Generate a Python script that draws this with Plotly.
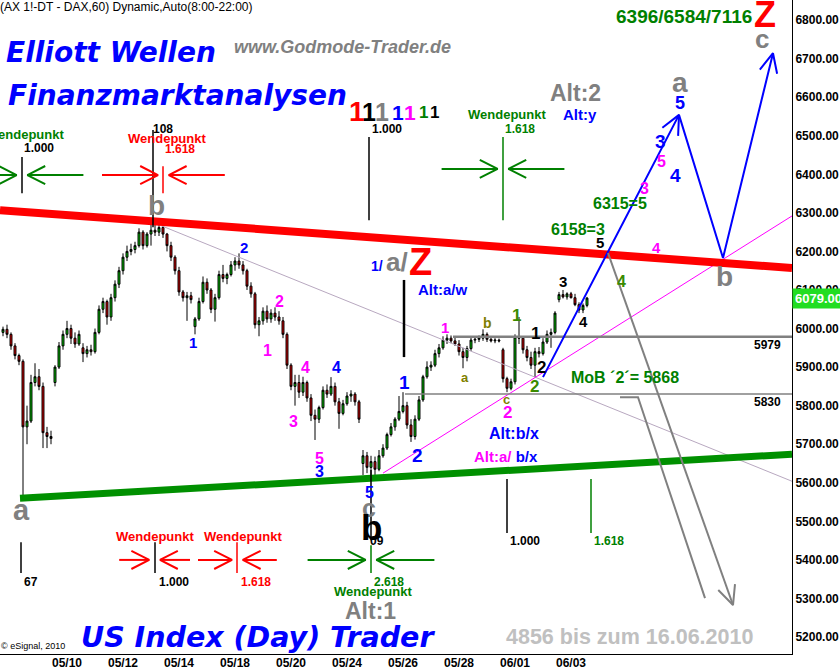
import math
import plotly.graph_objects as go

# ---------------- data (2-hour bars, FDAX, 06 May - 03 Jun 2010) ----------------
opens = [5990, 5998, 5985, 5955, 5930, 5915, 5745, 5760, 5860, 5875, 5850, 5730, 5720,
         5860, 5900, 5955, 5985, 6000, 5975, 5960,
         5950, 5935, 5945, 5940, 5990, 6050, 6070,
         6030, 6080, 6115, 6150, 6185, 6200, 6205,
         6215, 6250, 6215, 6245, 6255, 6250, 6262,
         6245, 6215, 6185, 6150, 6095, 6080, 6085,
         6005, 6025, 6070, 6120, 6100, 6050, 6080,
         6140, 6130, 6140, 6165, 6175, 6165, 6150,
         6110, 6090, 6010, 6020, 6045, 6025, 6040,
         6030, 6020, 5985, 5905, 5850, 5860, 5835,
         5860, 5820, 5775, 5765, 5795, 5840, 5830,
         5850, 5810, 5780, 5805, 5825, 5830, 5810,
         5650, 5670, 5640, 5655, 5635, 5670, 5690,
         5725, 5745, 5765, 5785, 5800, 5750, 5720,
         5765, 5815, 5875, 5900, 5905, 5935, 5950,
         5970, 5975, 5968, 5960, 5940, 5925, 5948,
         5970, 5972, 5975, 5985, 5972, 5968, 5970,
         5945, 5870, 5845, 5862, 5978, 5975, 5945,
         5925, 5905, 5940, 5935, 5965, 5985, 5990,
         6075, 6088, 6082, 6090, 6080, 6062, 6048, 6060]
highs = [6005, 6010, 5990, 5962, 5935, 5920, 5800, 5880, 5910, 5895, 5860, 5745, 5735,
         5905, 5965, 5995, 6020, 6010, 5990, 5995,
         5962, 5955, 5958, 6000, 6060, 6080, 6075,
         6090, 6125, 6160, 6195, 6215, 6220, 6225,
         6260, 6255, 6250, 6270, 6281, 6275, 6270,
         6248, 6225, 6190, 6160, 6100, 6095, 6095,
         6030, 6080, 6135, 6130, 6105, 6090, 6150,
         6165, 6145, 6175, 6185, 6195, 6175, 6155,
         6120, 6095, 6030, 6055, 6060, 6050, 6055,
         6045, 6030, 5990, 5910, 5880, 5880, 5875,
         5865, 5830, 5790, 5800, 5850, 5855, 5874,
         5860, 5820, 5815, 5835, 5840, 5835, 5815,
         5685, 5680, 5670, 5668, 5685, 5700, 5730,
         5755, 5770, 5825, 5835, 5810, 5765, 5775,
         5825, 5880, 5915, 5915, 5945, 5960, 5980,
         5985, 5982, 5980, 5970, 5950, 5955, 5978,
         5980, 5982, 5998, 5990, 5978, 5975, 5974,
         5950, 5875, 5870, 5985, 6030, 5980, 5955,
         5940, 5950, 5952, 5975, 5995, 6000, 6045,
         6095, 6100, 6094, 6095, 6090, 6068, 6065, 6082]
lows = [5980, 5975, 5945, 5920, 5905, 5563, 5700, 5755, 5850, 5840, 5690, 5690, 5700,
        5850, 5895, 5945, 5975, 5960, 5950, 5955,
        5913, 5925, 5930, 5935, 5985, 6040, 6010,
        6020, 6070, 6105, 6140, 6175, 6190, 6195,
        6210, 6205, 6210, 6215, 6240, 6240, 6235,
        6200, 6175, 6140, 6085, 6070, 6020, 6065,
        5985, 6020, 6065, 6090, 6040, 6018, 6075,
        6120, 6115, 6135, 6150, 6155, 6140, 6100,
        6080, 6000, 5980, 6010, 6015, 6015, 6020,
        6010, 5975, 5895, 5840, 5800, 5820, 5825,
        5810, 5760, 5711, 5755, 5790, 5820, 5825,
        5800, 5740, 5775, 5800, 5810, 5800, 5755,
        5620, 5625, 5612, 5620, 5630, 5665, 5685,
        5720, 5735, 5760, 5780, 5740, 5706, 5712,
        5760, 5810, 5870, 5890, 5900, 5925, 5945,
        5960, 5962, 5955, 5930, 5897, 5915, 5942,
        5962, 5965, 5968, 5965, 5964, 5962, 5964,
        5860, 5835, 5840, 5855, 5960, 5935, 5915,
        5895, 5874, 5925, 5930, 5960, 5950, 5985,
        6068, 6078, 6075, 6078, 6058, 6040, 6040, 6055]
closes = [5998, 5985, 5955, 5930, 5915, 5745, 5760, 5860, 5875, 5850, 5730, 5720, 5715,
          5900, 5955, 5985, 6000, 5975, 5960, 5985,
          5935, 5945, 5940, 5990, 6050, 6070, 6030,
          6080, 6115, 6150, 6185, 6200, 6205, 6215,
          6250, 6215, 6245, 6255, 6250, 6262, 6245,
          6215, 6185, 6150, 6095, 6080, 6085, 6075,
          6025, 6070, 6120, 6100, 6050, 6080, 6140,
          6130, 6140, 6165, 6175, 6165, 6150, 6110,
          6090, 6010, 6020, 6045, 6025, 6040, 6030,
          6020, 5985, 5905, 5850, 5860, 5835, 5860,
          5820, 5775, 5765, 5795, 5840, 5830, 5850,
          5810, 5780, 5805, 5825, 5830, 5810, 5765,
          5670, 5640, 5655, 5635, 5670, 5690, 5725,
          5745, 5765, 5785, 5800, 5750, 5720, 5765,
          5815, 5875, 5900, 5905, 5935, 5950, 5970,
          5975, 5968, 5960, 5940, 5925, 5948, 5970,
          5972, 5975, 5985, 5972, 5968, 5970, 5968,
          5870, 5845, 5862, 5978, 5975, 5945, 5925,
          5905, 5940, 5935, 5965, 5985, 5990, 6040,
          6088, 6082, 6090, 6080, 6062, 6048, 6060, 6079]
bars = list(range(len(opens)))

tick_bars = [16, 30, 44, 58, 72, 86, 100, 114, 128, 142]
tick_text = ["05/10", "05/12", "05/14", "05/18", "05/20", "05/24", "05/26", "05/28", "06/01", "06/03"]
price_ticks = [5200, 5300, 5400, 5500, 5600, 5700, 5800, 5900, 6000, 6100,
               6200, 6300, 6400, 6500, 6600, 6700, 6800]
last_price = 6079

# trend lines: (bars, prices)
resist_bars, resist_prices = [-0.75, 197.25], [6307, 6157]
support_bars, support_prices = [4.25, 197.25], [5560, 5674]
fan_bars, fan_prices = [39.25, 197.25], [6268, 5604]
channel_bars, channel_prices = [95, 197.25], [5625, 6292]
level_values = [5979, 5830]
level_start_bars = [112.5, 100.5]

# projected wave path a-b-c
proj_bars = [135, 169, 180, 192.5]
proj_prices = [5874, 6554, 6183, 6714]
alt1_bars, alt1_prices = [151.25, 182.5], [6196, 5283]
alt2_bars, alt2_prices = [154.25, 158.75, 175.5], [5822, 5822, 5301]

# ---------------- layout constants ----------------
W, H = 840, 670
ML, MR, MT, MB = 0, 48, 0, 16
XR = [-0.75, 197.25]
YR = [5156, 6852]
PW, PH = W - ML - MR, H - MT - MB
SX = PW / (XR[1] - XR[0])          # px per bar
SY = PH / (YR[1] - YR[0])          # px per point

ARIAL = "Liberation Sans, Arial, sans-serif"
HEAVY = "DejaVu Sans, Verdana, sans-serif"
BLUE, MAG, GREEN, GREEN2, OLIVE = "#0000FF", "#FF00FF", "#008000", "#3a8a00", "#808000"
GREY, RED, BLACK = "#808080", "#FF0000", "#000000"

fig = go.Figure()
fig.add_trace(go.Candlestick(
    x=bars, open=opens, high=highs, low=lows, close=closes,
    increasing=dict(fillcolor="#00CC00", line=dict(color=BLACK, width=1)),
    decreasing=dict(fillcolor="#E00000", line=dict(color=BLACK, width=1)),
    whiskerwidth=0, hoverinfo="skip", showlegend=False))


def line(xs, ys, color, width, dash=None):
    fig.add_trace(go.Scatter(x=xs, y=ys, mode="lines", hoverinfo="skip", showlegend=False,
                             line=dict(color=color, width=width, dash=dash)))


def head(x0, y0, x1, y1, L=21, ang=25):
    dx, dy = (x1 - x0) * SX, (y1 - y0) * SY
    n = math.hypot(dx, dy)
    ux, uy = -dx / n, -dy / n
    xs, ys = [], []
    for s in (1, -1):
        a = math.radians(ang * s)
        rx = ux * math.cos(a) - uy * math.sin(a)
        ry = ux * math.sin(a) + uy * math.cos(a)
        xs.append(x1 + rx * L / SX)
        ys.append(y1 + ry * L / SY)
    return [xs[0], x1, xs[1]], [ys[0], y1, ys[1]]


# trend lines
line(fan_bars, fan_prices, "#B8A8C0", 1)
line(channel_bars, channel_prices, MAG, 1)
line([level_start_bars[0], XR[1]], [level_values[0]] * 2, GREY, 2.5)
line([level_start_bars[1], XR[1]], [level_values[1]] * 2, GREY, 1.5)
line(resist_bars, resist_prices, RED, 8)
line(support_bars, support_prices, "#009000", 7)

# projection paths
line(proj_bars, proj_prices, BLUE, 2)
for k in (1, 3):
    hx, hy = head(proj_bars[k - 1], proj_prices[k - 1], proj_bars[k], proj_prices[k])
    line(hx, hy, BLUE, 2)
line(alt1_bars, alt1_prices, GREY, 2)
hx, hy = head(alt1_bars[0], alt1_prices[0], alt1_bars[1], alt1_prices[1])
line(hx, hy, GREY, 2)
line(alt2_bars, alt2_prices, GREY, 2)

# time-marker vertical lines: (bar, low, high, colour, width)
vlines = [(4.75, 6351, 6445, BLACK, 1.5), (37.5, 6263, 6515, BLACK, 1.5),
          (40, 6351, 6421, RED, 1.5), (91.5, 6281, 6497, BLACK, 1.5),
          (125, 6281, 6497, GREEN, 1.5), (4.5, 5366, 5446, BLACK, 1.5),
          (38, 5366, 5446, BLACK, 1.5), (58.5, 5366, 5446, RED, 1.5),
          (92, 5451, 5633, BLACK, 1.5), (92, 5366, 5438, GREEN, 1.5),
          (126, 5470, 5610, BLACK, 1.5), (147, 5470, 5610, GREEN, 1.5),
          (100.25, 5926, 6126, BLACK, 2.5)]
for b, lo, hi, c, w in vlines:
    line([b, b], [lo, hi], c, w)

# "Wendepunkt" converging arrows: (centre bar, price, colour, length in bars)
turns = [(4.75, 6398, GREEN, 14), (40.1, 6398, RED, 14), (125, 6414, GREEN, 14),
         (37.9, 5400, RED, 7.5), (58.6, 5400, RED, 8.5), (92, 5400, GREEN, 14.5)]
GAP = 1.35
for cx, p, c, ln in turns:
    for sgn in (-1, 1):
        tip = cx + sgn * GAP
        tail = tip + sgn * ln
        line([tail, tip], [p, p], c, 2)
        hx, hy = head(tail, p, tip, p, L=20, ang=27)
        line(hx, hy, c, 2)

ann = []


def txt(x, y, text, color, size, bold=True, family=ARIAL, xanchor="center",
        ref="data", italic=False, yanchor="middle"):
    d = dict(x=x, y=y, text=text, showarrow=False, xanchor=xanchor, yanchor=yanchor,
             font=dict(family=family, size=size, color=color,
                       weight="bold" if bold else "normal",
                       style="italic" if italic else "normal"))
    if ref == "paper":
        d.update(xref="paper", yref="paper")
    else:
        d.update(xref="x", yref="y")
    ann.append(d)


# wave labels: (bar, price, text, colour, size)
wave_labels = [
    (38.25, 6318, "b", GREY, 28), (4.5, 5529, "a", GREY, 29),
    (47.5, 5965, "1", BLUE, 15), (60.25, 6211, "2", BLUE, 15),
    (69, 6069, "2", MAG, 16), (66, 5942, "1", MAG, 16),
    (75.5, 5900, "4", MAG, 16), (83.25, 5900, "4", BLUE, 16),
    (72.5, 5760, "3", MAG, 16), (79, 5664, "5", MAG, 16),
    (79, 5630, "3", BLUE, 16), (91.5, 5576, "5", BLUE, 16),
    (91.5, 5534, "c", GREY, 25), (93.5, 5449, "09", BLACK, 12),
    (92, 5483, "b", BLACK, 35),
    (100.25, 5859, "1", BLUE, 19), (103.5, 5672, "2", BLUE, 19),
    (110, 6102, "Alt:a/w", BLUE, 15), (110.5, 6004, "1", MAG, 15),
    (121, 6014, "b", OLIVE, 14), (128.25, 6035, "1", GREEN2, 17),
    (133, 5988, "1", BLACK, 17), (134.5, 5900, "2", BLACK, 17),
    (132.75, 5851, "2", GREEN2, 17), (115.5, 5872, "a", OLIVE, 13),
    (125.75, 5817, "c", OLIVE, 13), (126, 5781, "2", MAG, 17),
    (127.75, 5729, "Alt:b/x", BLUE, 16),
    (125.75, 5667, "<span style='color:#FF00FF'>Alt:a/</span> b/x", BLUE, 15),
    (155.5, 5874, "MoB \u00b42\u00b4= 5868", GREEN, 16),
    (140, 6121, "3", BLACK, 15), (145, 6017, "4", BLACK, 15),
    (149.25, 6222, "5", BLACK, 15), (143.75, 6258, "6158=3", GREEN, 16),
    (154.25, 6325, "6315=5", GREEN, 16), (154.5, 6121, "4", GREEN2, 16),
    (163.25, 6211, "4", MAG, 15), (160.25, 6362, "3", MAG, 16),
    (168, 6398, "4", BLUE, 19), (164.5, 6434, "5", MAG, 16),
    (164.25, 6486, "3", BLUE, 19), (169.25, 6585, "5", BLUE, 18),
    (169.25, 6637, "a", GREY, 28), (180.25, 6136, "b", GREY, 28),
    (189.75, 6751, "c", GREY, 26), (143, 6611, "Alt:2", GREY, 23),
    (144.25, 6554, "Alt:y", BLUE, 15), (91.75, 5267, "Alt:1", GREY, 23),
    (93.5, 6162, "1/", BLUE, 14), (98.5, 6172, "a/", GREY, 26),
    (104.25, 6172, "Z", RED, 38),
]
for b, p, t, c, s in wave_labels:
    txt(b, p, t, c, s)

# colored "1 1 1 1 1 1 1"
ones = [(88.5, 6564, RED, 28), (91.5, 6561, BLACK, 25), (94.75, 6561, GREY, 25),
        (98.75, 6561, BLUE, 21), (101.75, 6561, MAG, 21), (105, 6559, GREEN, 17),
        (107.75, 6559, BLACK, 17)]
for b, p, c, s in ones:
    txt(b, p, "1", c, s)

# level labels
txt(191, 5957, "5979", BLACK, 12)
txt(191, 5809, "5830", BLACK, 12)

# time-marker texts: (bar, price, text, colour, size, anchor)
marker_texts = [
    (5.5, 6504, "Wendepunkt", GREEN, 13, "center"), (4.75, 6468, "1.000", BLACK, 12, "left"),
    (40, 6517, "108", BLACK, 12, "center"), (41, 6494, "Wendepunkt", RED, 13, "center"),
    (40, 6465, "1.618", RED, 12, "left"), (91.75, 6517, "1.000", BLACK, 12, "left"),
    (126, 6556, "Wendepunkt", GREEN, 13, "center"), (125, 6517, "1.618", GREEN, 12, "left"),
    (4.75, 5343, "67", BLACK, 12, "left"), (38, 5462, "Wendepunkt", RED, 13, "center"),
    (38.5, 5343, "1.000", BLACK, 12, "left"), (60, 5462, "Wendepunkt", RED, 13, "center"),
    (59, 5343, "1.618", RED, 12, "left"), (92.25, 5343, "2.618", GREEN, 12, "left"),
    (92.5, 5319, "Wendepunkt", GREEN, 13, "center"), (126.25, 5449, "1.000", BLACK, 12, "left"),
    (147.25, 5449, "1.618", GREEN, 12, "left"),
]
for b, p, t, c, s, a in marker_texts:
    txt(b, p, t, c, s, xanchor=a)


# decorative headline texts (paper coordinates)
def pp(px, py):
    return px / PW, 1 - py / PH


x, y = pp(-2, 7)
txt(x, y, "(AX 1!-DT - DAX,60) Dynamic,Auto(8:00-22:00)", BLACK, 12, bold=False, xanchor="left", ref="paper")
x, y = pp(4, 52)
txt(x, y, "Elliott Wellen", BLUE, 28, family=HEAVY, italic=True, xanchor="left", ref="paper")
x, y = pp(6, 95)
txt(x, y, "Finanzmarktanalysen", BLUE, 28, family=HEAVY, italic=True, xanchor="left", ref="paper")
x, y = pp(232, 47)
txt(x, y, "www.Godmode-Trader.de", GREY, 18, italic=True, xanchor="left", ref="paper")
x, y = pp(79, 637)
txt(x, y, "US Index (Day) Trader", BLUE, 28.5, family=HEAVY, italic=True, xanchor="left", ref="paper")
x, y = pp(504, 637)
txt(x, y, "4856 bis zum 16.06.2010", "#C0C0C0", 21.5, xanchor="left", ref="paper")
x, y = pp(-1, 646)
txt(x, y, "\u00a9 eSignal, 2010", BLACK, 9, bold=False, xanchor="left", ref="paper")
x, y = pp(754, 17)
txt(x, y, "6396/6584/7116", GREEN, 19, xanchor="right", ref="paper")
x, y = pp(765, 15)
txt(x, y, "Z", RED, 36, ref="paper")

# last price tag on the axis
ann.append(dict(x=1, y=last_price, xref="paper", yref="y", xanchor="left", yanchor="middle",
                text=f"{last_price:.2f}", showarrow=False, bgcolor="#22DD22", borderpad=2,
                font=dict(family=ARIAL, size=13, color="white", weight="bold")))

fig.update_layout(
    width=W, height=H, margin=dict(l=ML, r=MR, t=MT, b=MB),
    paper_bgcolor="white", plot_bgcolor="white", showlegend=False,
    annotations=ann,
    xaxis=dict(range=XR, rangeslider=dict(visible=False), showgrid=False, zeroline=False,
               showline=True, linecolor=BLACK, linewidth=1, ticks="",
               tickvals=tick_bars, ticktext=tick_text, ticklabelstandoff=-2,
               tickfont=dict(family=ARIAL, size=12, color=BLACK, weight="bold")),
    yaxis=dict(range=YR, side="right", showgrid=False, zeroline=False,
               showline=True, linecolor=BLACK, linewidth=1, ticks="",
               tickvals=price_ticks, ticktext=[f"{v:.2f}" for v in price_ticks],
               tickfont=dict(family=ARIAL, size=12, color=BLACK, weight="bold")),
)

fig.write_html("out.html", config={"displayModeBar": False},
               post_script="document.body.style.margin='0px';")
